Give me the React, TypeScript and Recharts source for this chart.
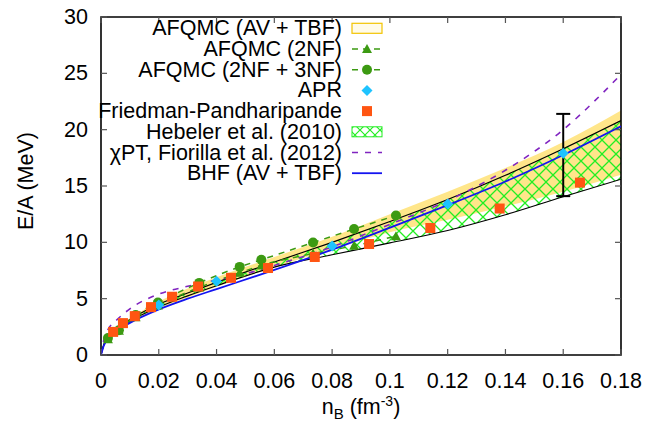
import React from 'react';
import { ComposedChart, Area, Line, Scatter, XAxis, YAxis, ReferenceArea, ErrorBar, Legend } from 'recharts';

// ---------- data ----------
const bandDensity = [0, 0.001, 0.0025, 0.005, 0.01, 0.02, 0.03, 0.04, 0.06, 0.08, 0.10, 0.12, 0.14, 0.16, 0.18];
const afqmcTbfLow = [0, 0.85, 1.45, 2.0, 2.85, 4.1, 5.1, 6.05, 7.8, 9.4, 10.9, 12.0, 13.2, 14.5, 16.0];
const afqmcTbfHigh = [0, 1.0, 1.7, 2.35, 3.25, 4.75, 5.9, 6.9, 8.7, 10.5, 12.5, 14.5, 16.6, 18.9, 21.7];
const hebelerLow = [0, 0.9, 1.55, 2.15, 3.0, 4.25, 5.25, 6.15, 7.8, 8.9, 9.95, 11.05, 12.45, 14.05, 15.6];
const hebelerHigh = [0, 0.95, 1.65, 2.3, 3.15, 4.5, 5.5, 6.45, 8.25, 10.0, 11.85, 13.8, 15.95, 18.3, 20.8];
const bhfEnergy = [0, 0.85, 1.45, 2.05, 2.85, 4.05, 5.0, 5.85, 7.55, 9.35, 11.3, 13.3, 15.4, 17.75, 20.3];

const fiorillaDensity = [0, 0.001, 0.0025, 0.005, 0.01, 0.02, 0.03, 0.04, 0.05, 0.06, 0.08, 0.10, 0.12, 0.14, 0.16, 0.18];
const fiorillaEnergy = [0, 1.35, 2.3, 3.0, 4.1, 5.4, 6.1, 6.65, 7.2, 7.95, 9.6, 11.6, 13.7, 16.4, 20.0, 24.9];

const afqmcDensity = [0.0024, 0.0062, 0.012, 0.0197, 0.034, 0.048, 0.0555, 0.0734, 0.0876, 0.1021];
const afqmc3nfEnergy = [1.5, 2.2, 3.55, 4.65, 6.4, 7.82, 8.45, 9.98, 11.18, 12.38];
const afqmc2nfEnergy = [1.4, 2.15, 3.35, 4.4, 6.0, 7.3, 7.95, 9.0, 9.7, 10.55];

const aprDensity = [0.02, 0.04, 0.08, 0.12, 0.16];
const aprEnergy = [4.44, 6.55, 9.67, 13.4, 17.9];

const fpDensity = [0.0042, 0.0076, 0.0117, 0.0173, 0.0246, 0.0336, 0.045, 0.0578, 0.074, 0.0928, 0.114, 0.138, 0.1658];
const fpEnergy = [2.05, 2.83, 3.45, 4.25, 5.17, 6.08, 6.85, 7.72, 8.7, 9.85, 11.27, 13.0, 15.3];

const errDensity = [0.16];
const errCenter = [17.75];
const errHalf = [3.65];

const xTicks = [0, 0.02, 0.04, 0.06, 0.08, 0.1, 0.12, 0.14, 0.16, 0.18];
const yTicks = [0, 5, 10, 15, 20, 25, 30];

const legendLabels = [
  'AFQMC (AV + TBF)',
  'AFQMC (2NF)',
  'AFQMC (2NF + 3NF)',
  'APR',
  'Friedman-Pandharipande',
  'Hebeler et al. (2010)',
  '\u03C7PT, Fiorilla et al. (2012)',
  'BHF (AV + TBF)',
];

// ---------- tables ----------
const tbfBand = bandDensity.map((x, i) => ({ x, range: [afqmcTbfLow[i], afqmcTbfHigh[i]] }));
const hebelerBand = bandDensity.map((x, i) => ({ x, range: [hebelerLow[i], hebelerHigh[i]] }));
const bhfData = bandDensity.map((x, i) => ({ x, y: bhfEnergy[i] }));
const fiorillaData = fiorillaDensity.map((x, i) => ({ x, y: fiorillaEnergy[i] }));
const afqmc3nfData = afqmcDensity.map((x, i) => ({ x, y: afqmc3nfEnergy[i] }));
const afqmc2nfData = afqmcDensity.map((x, i) => ({ x, y: afqmc2nfEnergy[i] }));
const aprData = aprDensity.map((x, i) => ({ x, y: aprEnergy[i] }));
const fpData = fpDensity.map((x, i) => ({ x, y: fpEnergy[i] }));
const errData = errDensity.map((x, i) => ({ x, y: errCenter[i], err: errHalf[i] }));

// ---------- styles ----------
const W = 657;
const H = 424;
const PL = 101;
const PR = 621;
const PT = 17;
const PB = 355;
const FONT = '"Liberation Sans", Arial, Helvetica, sans-serif';
const FS = 21.5;

const C_YELLOW = '#ffe68a';
const C_GREEN = '#3c9a12';
const C_HATCH = '#22ee22';
const C_CYAN = '#1ec3ff';
const C_ORANGE = '#ff5512';
const C_PURPLE = '#8024c0';
const C_BLUE = '#1414f0';
const C_TICK = '#555';

const fmt = (v: number) => String(Number(v.toFixed(2)));

const XTick = (props: any) => {
  const { x, payload } = props;
  return (
    <g>
      <line x1={x} x2={x} y1={PB} y2={PB - 6} stroke={C_TICK} strokeWidth={1.2} />
      <line x1={x} x2={x} y1={PT} y2={PT + 6} stroke={C_TICK} strokeWidth={1.2} />
      <text x={x} y={381} textAnchor="middle" dominantBaseline="central" fontSize={FS} fontFamily={FONT} fill="#000">
        {fmt(payload.value)}
      </text>
    </g>
  );
};

const YTick = (props: any) => {
  const { y, payload } = props;
  return (
    <g>
      <line x1={PL} x2={PL + 6} y1={y} y2={y} stroke={C_TICK} strokeWidth={1.2} />
      <line x1={PR} x2={PR - 6} y1={y} y2={y} stroke={C_TICK} strokeWidth={1.2} />
      <text x={88} y={y} textAnchor="end" dominantBaseline="central" fontSize={FS} fontFamily={FONT} fill="#000">
        {fmt(payload.value)}
      </text>
    </g>
  );
};

const XTitle = () => (
  <text x={(PL + PR) / 2} y={414} textAnchor="middle" fontSize={FS} fontFamily={FONT} fill="#000">
    <tspan>n</tspan>
    <tspan dy={5} fontSize={15}>B</tspan>
    <tspan dy={-5}> (fm</tspan>
    <tspan dy={-8} fontSize={14}>-3</tspan>
    <tspan dy={8}>)</tspan>
  </text>
);

const YTitle = () => (
  <text
    x={26}
    y={181}
    transform="rotate(-90, 26, 181)"
    textAnchor="middle"
    dominantBaseline="central"
    fontSize={FS}
    fontFamily={FONT}
    fill="#000"
  >
    E/A (MeV)
  </text>
);

const SquareShape = (p: any) => <rect x={p.cx - 5} y={p.cy - 5} width={10} height={10} fill={C_ORANGE} />;
const DiamondShape = (p: any) => (
  <path d={`M${p.cx},${p.cy - 5.5}L${p.cx + 5.5},${p.cy}L${p.cx},${p.cy + 5.5}L${p.cx - 5.5},${p.cy}Z`} fill={C_CYAN} />
);
const CircleShape = (p: any) => <circle cx={p.cx} cy={p.cy} r={5} fill={C_GREEN} />;
const TriangleShape = (p: any) => (
  <path d={`M${p.cx},${p.cy - 5}L${p.cx + 5},${p.cy + 4}L${p.cx - 5},${p.cy + 4}Z`} fill={C_GREEN} />
);
const NoShape = () => <g />;

const LegendBox = () => {
  const xr = 342;
  const s0 = 352;
  const s1 = 382;
  const sc = (s0 + s1) / 2;
  const row = (i: number) => 28.3 + 20.7 * i;
  const symbols = [
    <rect key="s0" x={s0} y={row(0) - 5} width={s1 - s0} height={10} fill="#fffbe8" stroke="#f2c400" strokeWidth={1.2} />,
    <g key="s1">
      <line x1={s0} x2={s1} y1={row(1)} y2={row(1)} stroke={C_GREEN} strokeWidth={1.5} strokeDasharray="6 5" />
      <path d={`M${sc},${row(1) - 5}L${sc + 5},${row(1) + 4}L${sc - 5},${row(1) + 4}Z`} fill={C_GREEN} />
    </g>,
    <g key="s2">
      <line x1={s0} x2={s1} y1={row(2)} y2={row(2)} stroke={C_GREEN} strokeWidth={1.5} strokeDasharray="6 5" />
      <circle cx={sc} cy={row(2)} r={5} fill={C_GREEN} />
    </g>,
    <path key="s3" d={`M${sc},${row(3) - 5.5}L${sc + 5.5},${row(3)}L${sc},${row(3) + 5.5}L${sc - 5.5},${row(3)}Z`} fill={C_CYAN} />,
    <rect key="s4" x={sc - 5} y={row(4) - 5} width={10} height={10} fill={C_ORANGE} />,
    <rect key="s5" x={s0} y={row(5) - 5} width={s1 - s0} height={10} fill="url(#hatchLegend)" stroke={C_HATCH} strokeWidth={1} />,
    <line key="s6" x1={s0} x2={s1} y1={row(6)} y2={row(6)} stroke={C_PURPLE} strokeWidth={1.5} strokeDasharray="6 7" />,
    <line key="s7" x1={s0} x2={s1} y1={row(7)} y2={row(7)} stroke={C_BLUE} strokeWidth={1.8} />,
  ];
  return (
    <svg width={W} height={H} style={{ position: 'absolute', left: 0, top: 0, pointerEvents: 'none' }}>
      <defs>
        <pattern id="hatchLegend" width="10" height="10" patternUnits="userSpaceOnUse">
          <path d="M0,0L10,10M10,0L0,10" stroke={C_HATCH} strokeWidth={1.2} />
        </pattern>
      </defs>
      {legendLabels.map((t, i) => (
        <text key={t} x={xr} y={row(i)} textAnchor="end" dominantBaseline="central" fontSize={FS} fontFamily={FONT} fill="#000">
          {t}
        </text>
      ))}
      {symbols}
    </svg>
  );
};

export default function App() {
  return (
    <div style={{ position: 'absolute', left: 0, top: 0, width: W, height: H, background: '#fff', overflow: 'hidden' }}>
      <ComposedChart width={W} height={H} margin={{ top: PT, right: W - PR, bottom: 0, left: 0 }}>
        <defs>
          <pattern id="hebelerHatch" width="14" height="14" patternUnits="userSpaceOnUse">
            <path d="M0,0L14,14M14,0L0,14" stroke={C_HATCH} strokeWidth={1.3} />
          </pattern>
        </defs>
        <XAxis
          type="number"
          dataKey="x"
          domain={[0, 0.18]}
          ticks={xTicks}
          height={H - PB}
          axisLine={false}
          tickLine={false}
          tick={<XTick />}
          interval={0}
          allowDataOverflow
          label={<XTitle />}
        />
        <YAxis
          type="number"
          dataKey="y"
          domain={[0, 30]}
          ticks={yTicks}
          width={PL}
          axisLine={false}
          tickLine={false}
          tick={<YTick />}
          interval={0}
          allowDataOverflow
          label={<YTitle />}
        />
        <Legend
          layout="horizontal"
          align="center"
          verticalAlign="middle"
          content={() => <LegendBox />}
          wrapperStyle={{ position: 'absolute', left: 0, top: 0, width: W, height: H, pointerEvents: 'none' }}
        />
        <Area
          data={tbfBand}
          dataKey="range"
          type="monotone"
          fill={C_YELLOW}
          fillOpacity={1}
          stroke="none"
          isAnimationActive={false}
        />
        <Area
          data={hebelerBand}
          dataKey="range"
          type="monotone"
          fill="url(#hebelerHatch)"
          fillOpacity={1}
          stroke="#000"
          strokeWidth={1.2}
          isAnimationActive={false}
        />
        <Line
          data={fiorillaData}
          dataKey="y"
          type="monotone"
          stroke={C_PURPLE}
          strokeWidth={1.6}
          strokeDasharray="6 7"
          dot={false}
          isAnimationActive={false}
        />
        <Line
          data={afqmc3nfData}
          dataKey="y"
          type="monotone"
          stroke={C_GREEN}
          strokeWidth={1.5}
          strokeDasharray="6 6"
          dot={false}
          isAnimationActive={false}
        />
        <Line
          data={afqmc2nfData}
          dataKey="y"
          type="monotone"
          stroke={C_GREEN}
          strokeWidth={1.5}
          strokeDasharray="6 6"
          dot={false}
          isAnimationActive={false}
        />
        <Line
          data={bhfData}
          dataKey="y"
          type="monotone"
          stroke={C_BLUE}
          strokeWidth={1.8}
          dot={false}
          isAnimationActive={false}
        />
        <Scatter data={afqmc2nfData} dataKey="y" shape={<TriangleShape />} isAnimationActive={false} />
        <Scatter data={afqmc3nfData} dataKey="y" shape={<CircleShape />} isAnimationActive={false} />
        <Scatter data={aprData} dataKey="y" shape={<DiamondShape />} isAnimationActive={false} />
        <Scatter data={fpData} dataKey="y" shape={<SquareShape />} isAnimationActive={false} />
        <Scatter data={errData} dataKey="y" shape={<NoShape />} isAnimationActive={false}>
          <ErrorBar dataKey="err" direction="y" width={7} stroke="#000" strokeWidth={2} />
        </Scatter>
        <ReferenceArea x1={0} x2={0.18} y1={0} y2={30} fill="none" stroke="#000" strokeWidth={1.6} ifOverflow="visible" />
      </ComposedChart>
    </div>
  );
}
